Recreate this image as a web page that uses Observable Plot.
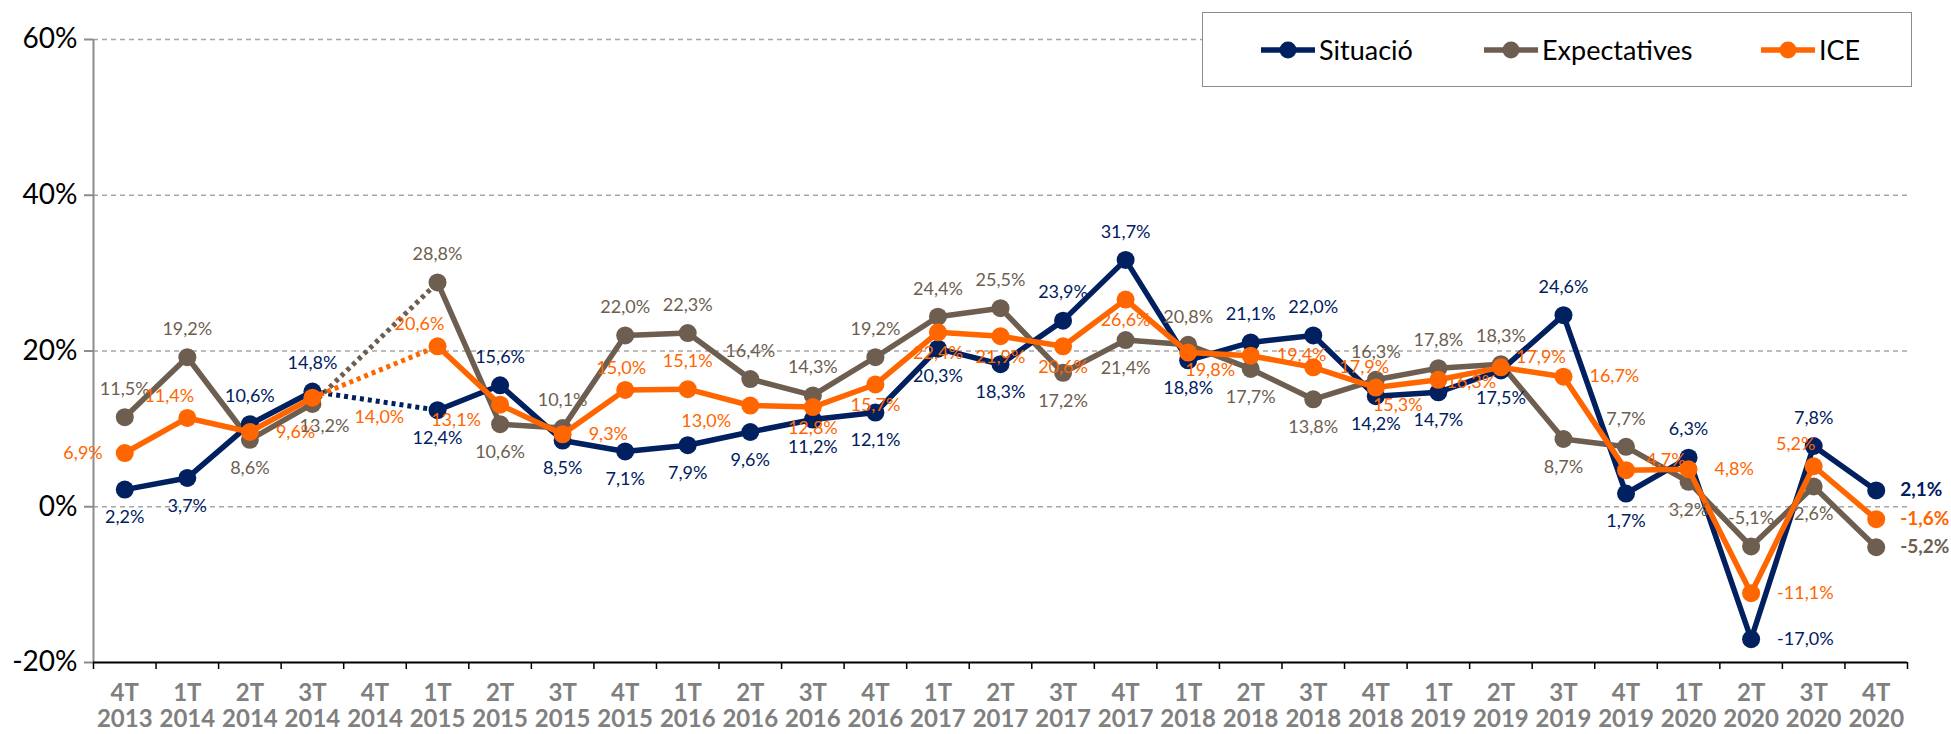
<!DOCTYPE html>
<html><head><meta charset="utf-8">
<script src="https://cdn.jsdelivr.net/npm/d3@7"></script>
<script src="https://cdn.jsdelivr.net/npm/@observablehq/plot@0.6"></script>
<style>
body{margin:0;background:#fff;}
#wrap{position:relative;width:1951px;height:734px;overflow:hidden;}
#legend{position:absolute;left:1202px;top:12px;width:710px;height:75px;border:1.5px solid #8c8c8c;background:#fff;box-sizing:border-box;font-family:Lato,"Open Sans",sans-serif;font-size:27px;color:#000;}
.item{position:absolute;top:0;height:100%;display:flex;align-items:center;}
.item svg{margin-right:4px;}
</style></head><body>
<div id="wrap"><div id="chart"></div><div id="legend"></div></div>
<script>
// ---- data ----
const quarters = ["4T","1T","2T","3T","4T","1T","2T","3T","4T","1T","2T","3T","4T","1T","2T","3T","4T","1T","2T","3T","4T","1T","2T","3T","4T","1T","2T","3T","4T"];
const years = ["2013","2014","2014","2014","2014","2015","2015","2015","2015","2016","2016","2016","2016","2017","2017","2017","2017","2018","2018","2018","2018","2019","2019","2019","2019","2020","2020","2020","2020"];
const situacio = [2.2,3.7,10.6,14.8,null,12.4,15.6,8.5,7.1,7.9,9.6,11.2,12.1,20.3,18.3,23.9,31.7,18.8,21.1,22.0,14.2,14.7,17.5,24.6,1.7,6.3,-17.0,7.8,2.1];
const expectatives = [11.5,19.2,8.6,13.2,null,28.8,10.6,10.1,22.0,22.3,16.4,14.3,19.2,24.4,25.5,17.2,21.4,20.8,17.7,13.8,16.3,17.8,18.3,8.7,7.7,3.2,-5.1,2.6,-5.2];
const ice = [6.9,11.4,9.6,14.0,null,20.6,13.1,9.3,15.0,15.1,13.0,12.8,15.7,22.4,21.9,20.6,26.6,19.8,19.4,17.9,15.3,16.3,17.9,16.7,4.7,4.8,-11.1,5.2,-1.6];
const seriesNames = ["Situació","Expectatives","ICE"];
const yTicks = [-20,0,20,40,60];

// ---- label placement codes (layout, not data) ----
const posS = ["b","b","t","t",null,"b","t","b","b","b","b","b","b","b","b","t","t","b","t","t","b","b","b","t","b","t","r","t","R"];
const posE = ["t","t","b","bR",null,"t","b","t","t","t","t","t","t","t","t","b","b","t","b","b","t","t","t","b","t","b","t","b","R"];
const posI = ["l","tl","r","rb",null,"tl","bl","r","ts","t","bl","bs","bs","bs","bs","bs","bs","br","r","r","br","r0","tr","r","tr","r","r","tl","R"];

const colors = ["#002060","#6E5E50","#FF6600"];
const offsets = {
  t:{dx:0,dy:-28,a:"middle"}, ts:{dx:-4,dy:-22,a:"middle"},
  b:{dx:0,dy:28,a:"middle"}, bs:{dx:0,dy:21,a:"middle"},
  r:{dx:26,dy:0,a:"start"}, r0:{dx:8,dy:2,a:"start"}, rb:{dx:42,dy:20,a:"start"},
  l:{dx:-22,dy:0,a:"end"},
  tl:{dx:-18,dy:-22,a:"middle"}, tr:{dx:40,dy:-10,a:"middle"},
  br:{dx:22,dy:18,a:"middle"}, bR:{dx:12,dy:22,a:"middle"}, bl:{dx:-44,dy:16,a:"middle"},
  R:{dx:24,dy:0,a:"start",bold:true}
};

const seriesVals = [situacio, expectatives, ice];
const seriesPos = [posS, posE, posI];
const rows = [];
seriesNames.forEach((name, s) => {
  seriesVals[s].forEach((v, i) => rows.push({series:name, i, v, pos:seriesPos[s][i]}));
});
const defined = rows.filter(d => d.v != null);
// dotted connectors across the gap
const connectors = [];
seriesNames.forEach((name, s) => {
  const vals = seriesVals[s];
  vals.forEach((v, i) => {
    if (v == null) {
      let a = i - 1, b = i + 1;
      while (a >= 0 && vals[a] == null) a--;
      while (b < vals.length && vals[b] == null) b++;
      if (a >= 0 && b < vals.length) {
        connectors.push({series:name, i:a, v:vals[a], g:name+i});
        connectors.push({series:name, i:b, v:vals[b], g:name+i});
      }
    }
  });
});
const fmt = v => v.toFixed(1).replace(".", ",") + "%";
const order = ["Expectatives","Situació","ICE"];

const marks = [
  Plot.ruleY(yTicks.filter(t => t !== yTicks[0]), {stroke:"#a6a6a6", strokeWidth:1.5, strokeDasharray:"5,4"}),
  Plot.ruleX([-0.5], {stroke:"#8c8c8c", strokeWidth:2}),
  Plot.axisY({ticks:yTicks, label:null, tickFormat:d => d + "%", tickSize:9, tickPadding:7, fontSize:28, fill:"#000", stroke:"#8c8c8c", strokeWidth:2}),
  Plot.axisX({ticks:d3.range(quarters.length + 1).map(i => i - 0.5), label:null, tickSize:7, tickFormat:() => "", stroke:"#000", strokeWidth:1.5}),
  Plot.axisX({ticks:d3.range(quarters.length), label:null, tickSize:0, tickPadding:21, tickFormat:i => quarters[i] + "\n" + years[i], fontSize:24, fontWeight:"bold", fill:"#808080", lineHeight:1.05}),
  Plot.ruleY([yTicks[0]], {stroke:"#000", strokeWidth:2})
];
for (const name of order) {
  marks.push(Plot.line(connectors.filter(d => d.series === name), {x:"i", y:"v", z:"g", stroke:"series", strokeWidth:5, strokeDasharray:"4,4", strokeLinecap:"butt"}));
  marks.push(Plot.line(rows.filter(d => d.series === name), {x:"i", y:"v", stroke:"series", strokeWidth:5.5, strokeLinejoin:"round"}));
  marks.push(Plot.dot(defined.filter(d => d.series === name), {x:"i", y:"v", r:9, fill:"series"}));
}
for (const [code, o] of Object.entries(offsets)) {
  const data = defined.filter(d => d.pos === code);
  marks.push(Plot.text(data, {x:"i", y:"v", text:d => fmt(d.v), fill:"series", dx:o.dx, dy:o.dy, textAnchor:o.a, fontSize:o.bold ? 19 : 18, fontWeight:o.bold ? "bold" : "normal"}));
}

const chart = Plot.plot({
  width:1951, height:734,
  marginLeft:93, marginRight:44, marginTop:39, marginBottom:72,
  style:{fontFamily:"Lato, 'Open Sans', sans-serif", background:"#fff"},
  x:{type:"linear", domain:[-0.5, quarters.length - 0.5], label:null},
  y:{domain:[yTicks[0], yTicks[yTicks.length - 1]], label:null},
  color:{domain:seriesNames, range:colors},
  marks
});
document.getElementById("chart").appendChild(chart);

// legend
const legend = document.getElementById("legend");
const legendLeft = [58, 281, 558];
seriesNames.forEach((name, s) => {
  const item = document.createElement("div");
  item.className = "item";
  item.style.left = legendLeft[s] + "px";
  item.innerHTML = `<svg width="54" height="20"><line x1="0" x2="54" y1="10" y2="10" stroke="${colors[s]}" stroke-width="5.5" stroke-linecap="round"/><circle cx="27" cy="10" r="8.5" fill="${colors[s]}"/></svg><span>${name}</span>`;
  legend.appendChild(item);
});
</script>
</body></html>
